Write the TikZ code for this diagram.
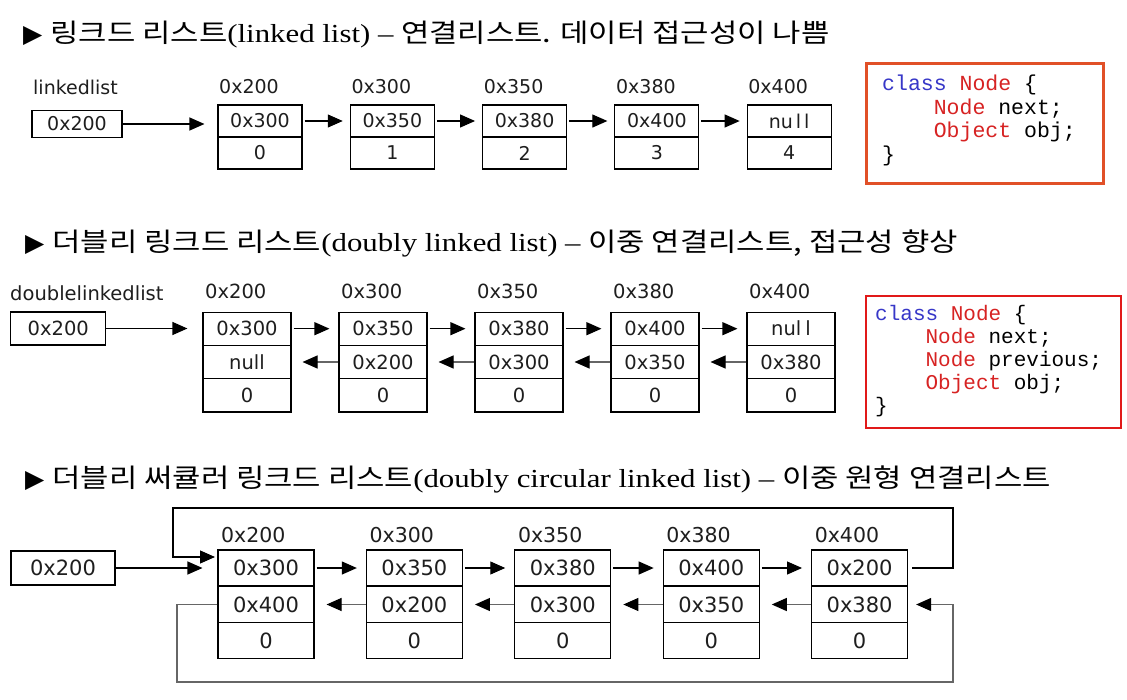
\documentclass[tikz,border=0pt]{standalone}
\usepackage{fontspec}
\setmainfont{Liberation Serif}
\newfontfamily\kr{Noto Sans CJK KR}
\newfontfamily\symf{DejaVu Sans}
\newfontfamily\nf{DejaVu Sans}
\newfontfamily\cf{Liberation Mono}
\usetikzlibrary{arrows.meta}
\definecolor{kblue}{RGB}{55,55,200}
\definecolor{kred}{RGB}{215,35,35}
\definecolor{boxA}{RGB}{225,80,40}
\definecolor{boxB}{RGB}{225,25,25}
\definecolor{txt}{RGB}{30,30,30}
\newcommand{\ttlrow}[1]{{\symf\fontsize{25}{25}\selectfont ▶}\hspace{8pt}\scalebox{1.185}[1]{#1}}
\begin{document}
\begin{tikzpicture}[x=1pt,y=-1pt,
  cell/.style={draw, line width=1.1pt, inner sep=0pt, text=txt},
  cA/.style={cell, minimum width=84pt, minimum height=32pt, font=\nf\fontsize{19}{19}\selectfont},
  cB/.style={cell, minimum width=88pt, minimum height=33.3pt, font=\nf\fontsize{19.5}{19.5}\selectfont},
  cC/.style={cell, minimum width=96pt, minimum height=36pt, font=\nf\fontsize{21}{21}\selectfont},
  lblA/.style={anchor=west, inner sep=0pt, text=txt, font=\nf\fontsize{19}{19}\selectfont},
  lblB/.style={anchor=west, inner sep=0pt, text=txt, font=\nf\fontsize{19.5}{19.5}\selectfont},
  lblC/.style={anchor=west, inner sep=0pt, text=txt, font=\nf\fontsize{20.5}{20.5}\selectfont},
  ttl/.style={anchor=west, inner sep=0pt, font=\fontsize{26}{26}\selectfont},
  nx/.style={line width=1.1pt, -{Triangle[length=15pt,width=13pt]}},
  pv/.style={line width=1.1pt, draw=black!60, -{Triangle[length=15pt,width=13pt,color=black]}},
  codetxtA/.style={anchor=north west, inner sep=0pt, align=left, font=\cf\fontsize{21.5}{23.5}\selectfont},
  codetxtB/.style={anchor=north west, inner sep=0pt, align=left, font=\cf\fontsize{21}{23}\selectfont},
]
\fill[white] (0,0) rectangle (1127,699);
\useasboundingbox (0,0) rectangle (1127,699);

% ---------- Section 1 ----------
\node[ttl] (t1) at (23,35) {\ttlrow{{\kr 링크드 리스트}(linked list) – {\kr 연결리스트. 데이터 접근성이 나쁨}}};
\node[lblA] (l1) at (33,87) {linkedlist};
\node[cell, minimum width=90pt, minimum height=27pt, font=\nf\fontsize{19}{19}\selectfont] (h1) at (77,124) {0x200};
\foreach \i/\a/\b/\l in {1/0x300/0/0x200, 2/0x350/1/0x300, 3/0x380/2/0x350, 4/0x400/3/0x380, 5/{nu\kern3pt l\kern3pt l}/4/0x400}{
  \node[cA] (s1a\i) at ({260+132.3*(\i-1)},121) {\a};
  \node[cA] (s1b\i) at ({260+132.3*(\i-1)},153) {\b};
  \node[lblA] (s1l\i) at ({219+132.3*(\i-1)},87) {\l};
}
\draw[nx] (h1.east) -- ([xshift=-13pt]s1a1.west |- h1.east);
\foreach \i in {1,...,4}{
  \pgfmathtruncatemacro{\j}{\i+1}
  \draw[nx] ([xshift=2pt]s1a\i.east) -- ([xshift=-7pt]s1a\j.west);
}
\node[draw=boxA, line width=2.5pt, minimum width=237pt, minimum height=120pt, anchor=north west] (k1) at (865,62) {};
\node[codetxtA] (k1t) at (882,75) {{\color{kblue}class} {\color{kred}Node} \{\\
\hspace*{2.4em}{\color{kred}Node} next;\\
\hspace*{2.4em}{\color{kred}Object} obj;\\
\}};

% ---------- Section 2 ----------
\node[ttl] (t2) at (25,243) {\ttlrow{{\kr 더블리 링크드 리스트}(doubly linked list) – {\kr 이중 연결리스트, 접근성 향상}}};
\node[lblB] (l2) at (10,293) {doublelinkedlist};
\node[cell, minimum width=95pt, minimum height=33pt, font=\nf\fontsize{19.5}{19.5}\selectfont] (h2) at (58.3,328.5) {0x200};
\foreach \i/\a/\b/\l in {1/0x300/null/0x200, 2/0x350/0x200/0x300, 3/0x380/0x300/0x350, 4/0x400/0x350/0x380, 5/{nul\kern4pt l}/0x380/0x400}{
  \node[cB] (s2a\i) at ({247+136*(\i-1)},328.7) {\a};
  \node[cB] (s2b\i) at ({247+136*(\i-1)},362) {\b};
  \node[cB] (s2c\i) at ({247+136*(\i-1)},395.3) {0};
  \node[lblB] (s2l\i) at ({205+136*(\i-1)},291) {\l};
}
\draw[nx] (h2.east) -- ([xshift=-15pt]s2a1.west |- h2.east);
\foreach \i in {1,...,4}{
  \pgfmathtruncatemacro{\j}{\i+1}
  \draw[nx] ([xshift=2pt]s2a\i.east) -- ([xshift=-9pt]s2a\j.west);
  \draw[pv] (s2b\j.west) -- ([xshift=11pt]s2b\i.east);
}
\node[draw=boxB, line width=2pt, minimum width=255pt, minimum height=132pt, anchor=north west] (k2) at (865,295) {};
\node[codetxtB] (k2t) at (875,305) {{\color{kblue}class} {\color{kred}Node} \{\\
\hspace*{2.4em}{\color{kred}Node} next;\\
\hspace*{2.4em}{\color{kred}Node} previous;\\
\hspace*{2.4em}{\color{kred}Object} obj;\\
\}};

% ---------- Section 3 ----------
\node[ttl] (t3) at (25,479) {\ttlrow{{\kr 더블리 써큘러 링크드 리스트}(doubly circular linked list) – {\kr 이중 원형 연결리스트}}};
\node[cell, minimum width=104pt, minimum height=34pt, font=\nf\fontsize{21}{21}\selectfont] (h3) at (63,568) {0x200};
\foreach \i/\a/\b/\l in {1/0x300/0x400/0x200, 2/0x350/0x200/0x300, 3/0x380/0x300/0x350, 4/0x400/0x350/0x380, 5/0x200/0x380/0x400}{
  \node[cC] (s3a\i) at ({266+148.4*(\i-1)},568) {\a};
  \node[cC] (s3b\i) at ({266+148.4*(\i-1)},604.5) {\b};
  \node[cC] (s3c\i) at ({266+148.4*(\i-1)},640.5) {0};
  \node[lblC] (s3l\i) at ({221+148.4*(\i-1)},535) {\l};
}
\draw[nx] (h3.east) -- ([xshift=-15pt]s3a1.west |- h3.east);
\foreach \i in {1,...,4}{
  \pgfmathtruncatemacro{\j}{\i+1}
  \draw[nx] ([xshift=2pt]s3a\i.east) -- ([xshift=-9pt]s3a\j.west);
  \draw[pv] (s3b\j.west) -- ([xshift=12pt]s3b\i.east);
}
\coordinate (tr) at (953,508);
\coordinate (tl) at (173,508);
\coordinate (tin) at (215,557);
\coordinate (bl) at (177,682);
\coordinate (br) at (953,682);
\draw[nx] ([xshift=4pt]s3a5.east) -- (tr |- s3a5.east) -- (tr) -- (tl) -- (tl |- tin) -- (tin);
\draw[pv] (s3b1.west) -- (bl |- s3b1.west) -- (bl) -- (br) -- (br |- s3b5.east) -- ([xshift=8pt]s3b5.east);
\end{tikzpicture}
\end{document}
